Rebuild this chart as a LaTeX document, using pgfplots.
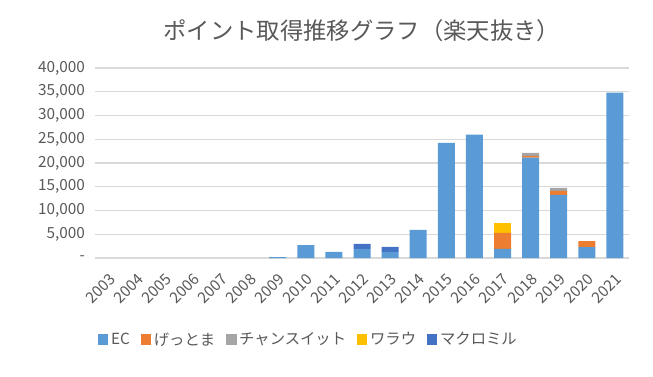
\documentclass[border=0pt]{standalone}
\usepackage{pgfplots}
\pgfplotsset{compat=1.18}
\usepackage{fontspec}
\setmainfont{Noto Sans CJK JP}
\definecolor{cEC}{HTML}{5B9BD5}
\definecolor{cGet}{HTML}{ED7D31}
\definecolor{cChance}{HTML}{A5A5A5}
\definecolor{cWarau}{HTML}{FFC000}
\definecolor{cMacro}{HTML}{4472C4}
\definecolor{txt}{HTML}{595959}
\definecolor{grd}{HTML}{D9D9D9}
\begin{document}
\begin{tikzpicture}
\begin{axis}[
  at={(0,0)}, anchor=south west,
  scale only axis,
  width=400.5pt, height=142.5pt,
  ybar stacked,
  bar width=12.75pt,
  xmin=-0.5, xmax=18.5,
  ymin=0, ymax=40000,
  scaled y ticks=false,
  xtick={0,...,18},
  xticklabels={2003,2004,2005,2006,2007,2008,2009,2010,2011,2012,2013,2014,2015,2016,2017,2018,2019,2020,2021},
  x tick label style={rotate=45, anchor=east, font=\fontsize{11.5}{13}\selectfont, text=txt, inner sep=0pt, xshift=-8pt, yshift=-12pt},
  ytick={0,5000,...,40000},
  yticklabels={{-},{5,000},{10,000},{15,000},{20,000},{25,000},{30,000},{35,000},{40,000}},
  y tick label style={font=\fontsize{11.5}{13}\selectfont, text=txt, xshift=-4pt},
  /pgf/number format/assume math mode=true,
  ymajorgrids, grid style={grd, line width=0.8pt},
  major tick length=0pt,
  axis line style={draw=none},
  axis x line*=bottom,
  x axis line style={draw=grd, line width=0.8pt},
  title={ポイント取得推移グラフ（楽天抜き）},
  title style={at={(0.5,1)}, anchor=center, yshift=22pt, font=\fontsize{17.5}{20}\selectfont, text=txt},
  legend style={at={(0.40,-0.43)}, anchor=center, draw=none, font=\fontsize{11.5}{13}\selectfont, text=txt, /tikz/every even column/.append style={column sep=6pt}},
  legend columns=-1,
  legend image code/.code={\fill[#1] (0pt,-4pt) rectangle (8pt,4pt);},
  clip=false,
]
\addplot[fill=cEC, draw=none] coordinates {(0,0) (1,0) (2,0) (3,0) (4,0) (5,0) (6,200) (7,2700) (8,1270) (9,1900) (10,1270) (11,5900) (12,24250) (13,25950) (14,1900) (15,21150) (16,13300) (17,2300) (18,34800)};
\addplot[fill=cGet, draw=none] coordinates {(0,0) (1,0) (2,0) (3,0) (4,0) (5,0) (6,0) (7,0) (8,0) (9,0) (10,0) (11,0) (12,0) (13,0) (14,3370) (15,350) (16,850) (17,1270) (18,0)};
\addplot[fill=cChance, draw=none] coordinates {(0,0) (1,0) (2,0) (3,0) (4,0) (5,0) (6,0) (7,0) (8,0) (9,0) (10,0) (11,0) (12,0) (13,0) (14,0) (15,630) (16,630) (17,0) (18,0)};
\addplot[fill=cWarau, draw=none] coordinates {(0,0) (1,0) (2,0) (3,0) (4,0) (5,0) (6,0) (7,0) (8,0) (9,0) (10,0) (11,0) (12,0) (13,0) (14,2100) (15,0) (16,0) (17,0) (18,0)};
\addplot[fill=cMacro, draw=none] coordinates {(0,0) (1,0) (2,0) (3,0) (4,0) (5,0) (6,0) (7,0) (8,0) (9,1050) (10,1050) (11,0) (12,0) (13,0) (14,0) (15,0) (16,0) (17,0) (18,0)};
\legend{EC,げっとま,チャンスイット,ワラウ,マクロミル}
\end{axis}
\pgfresetboundingbox
\path (-71.25pt,-88.5pt) rectangle (418.5pt,193.5pt);
\end{tikzpicture}
\end{document}
